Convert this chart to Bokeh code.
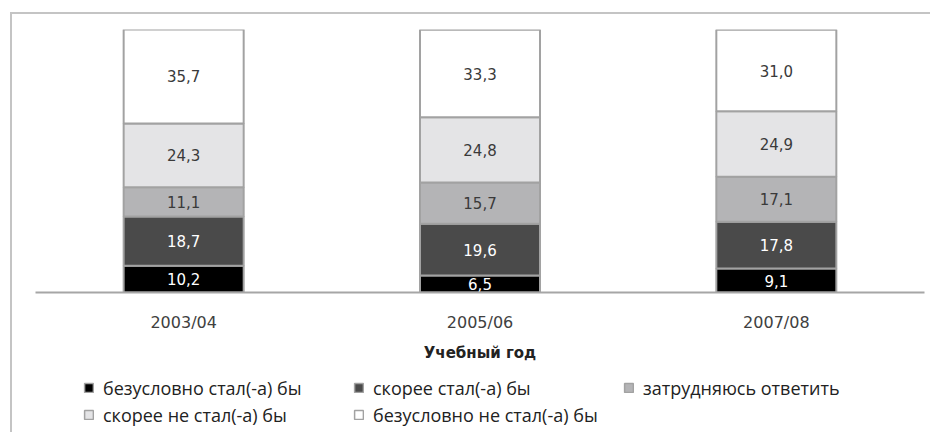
from bokeh.plotting import figure
from bokeh.layouts import column
from bokeh.models import ColumnDataSource, FactorRange, Range1d, Legend, LegendItem, InlineStyleSheet
from bokeh.core.properties import value
from bokeh.embed import file_html
from bokeh.resources import INLINE

years = ["2003/04", "2005/06", "2007/08"]
definitely_yes = [10.2, 6.5, 9.1]
rather_yes = [18.7, 19.6, 17.8]
undecided = [11.1, 15.7, 17.1]
rather_no = [24.3, 24.8, 24.9]
definitely_no = [35.7, 33.3, 31.0]
series_labels = ["безусловно стал(-а) бы", "скорее стал(-а) бы", "затрудняюсь ответить",
                 "скорее не стал(-а) бы", "безусловно не стал(-а) бы"]
axis_title = "Учебный год"

keys = ["s0", "s1", "s2", "s3", "s4"]
series = [definitely_yes, rather_yes, undecided, rather_no, definitely_no]
fills = ["#000000", "#4a4a4a", "#b4b4b6", "#e4e4e6", "#ffffff"]
text_cols = ["#ffffff", "#ffffff", "#3a3a3a", "#3a3a3a", "#3a3a3a"]
edge = "#a2a2a2"

data = {"years": years}
for k, s in zip(keys, series):
    data[k] = s
src = ColumnDataSource(data)

css_top = InlineStyleSheet(css="""
:host::after { content: ''; position: absolute; left: 10px; top: 12px; right: 0px; bottom: 0px;
  border-left: 2px solid #c4c4c4; border-top: 2px solid #c4c4c4; pointer-events: none; }
""")
css_bottom = InlineStyleSheet(css="""
:host::after { content: ''; position: absolute; left: 10px; top: 0px; right: 0px; bottom: 0px;
  border-left: 2px solid #c4c4c4; pointer-events: none; }
""")

p = figure(x_range=FactorRange(*years), y_range=Range1d(0, 100),
           width=930, height=370, output_backend="svg", toolbar_location=None,
           y_axis_location=None, min_border_left=35, min_border_right=6,
           min_border_top=29, min_border_bottom=78, stylesheets=[css_top])
p.outline_line_color = None
p.xgrid.grid_line_color = None
p.ygrid.grid_line_color = None
p.x_range.range_padding = 0

rs = p.vbar_stack(keys, x="years", width=0.405, source=src, fill_color=fills,
                  line_color=edge, line_width=2)

# segment labels
for i, (k, s) in enumerate(zip(keys, series)):
    below = [sum(series[j][n] for j in range(i)) for n in range(len(years))]
    centers = [b + v / 2 for b, v in zip(below, s)]
    texts = [f"{v:.1f}".replace(".", ",") for v in s]
    lsrc = ColumnDataSource(dict(x=years, y=centers, t=texts))
    p.text(x="x", y="y", text="t", source=lsrc, text_align="center", text_baseline="middle",
           text_font=value("DejaVu Sans"), text_font_size="15px", text_color=text_cols[i])

ax = p.xaxis[0]
ax.axis_line_color = "#a6a6a6"
ax.axis_line_width = 2
ax.major_tick_line_color = None
ax.minor_tick_line_color = None
ax.major_label_text_font = "DejaVu Sans"
ax.major_label_text_font_size = "16px"
ax.major_label_text_color = "#404040"
ax.major_label_standoff = 14
ax.axis_label = axis_title
ax.axis_label_text_font = "DejaVu Sans"
ax.axis_label_text_font_style = "bold"
ax.axis_label_text_font_size = "15px"
ax.axis_label_text_color = "#222222"
ax.axis_label_standoff = 9

# legend strip (same series as hidden renderers, only the legend shows)
lg = figure(x_range=FactorRange(*years), y_range=Range1d(0, 100),
            width=930, height=62, output_backend="svg", toolbar_location=None,
            x_axis_location=None, y_axis_location=None, min_border_left=35,
            min_border_right=6, min_border_top=0, min_border_bottom=0,
            stylesheets=[css_bottom])
lg.outline_line_color = None
lg.xgrid.grid_line_color = None
lg.ygrid.grid_line_color = None
lrs = lg.vbar_stack(keys, x="years", width=0.405, source=src, fill_color=fills,
                    line_color=edge, line_width=1.5, visible=False)
items = [LegendItem(label=lab, renderers=[r]) for lab, r in zip(series_labels, lrs)]
legend = Legend(items=items, orientation="horizontal", ncols=3, location=(48, 4),
                label_text_font="Open Sans", label_text_font_size="18px",
                label_text_color="#222222", glyph_width=11, glyph_height=11,
                label_standoff=9, label_width=250, label_height=27, spacing=0,
                padding=0, margin=0, border_line_color=None, background_fill_alpha=0,
                inactive_fill_alpha=0)
lg.add_layout(legend, "center")

layout = column(p, lg, spacing=0)
open("out.html", "w").write(file_html(layout, INLINE))
